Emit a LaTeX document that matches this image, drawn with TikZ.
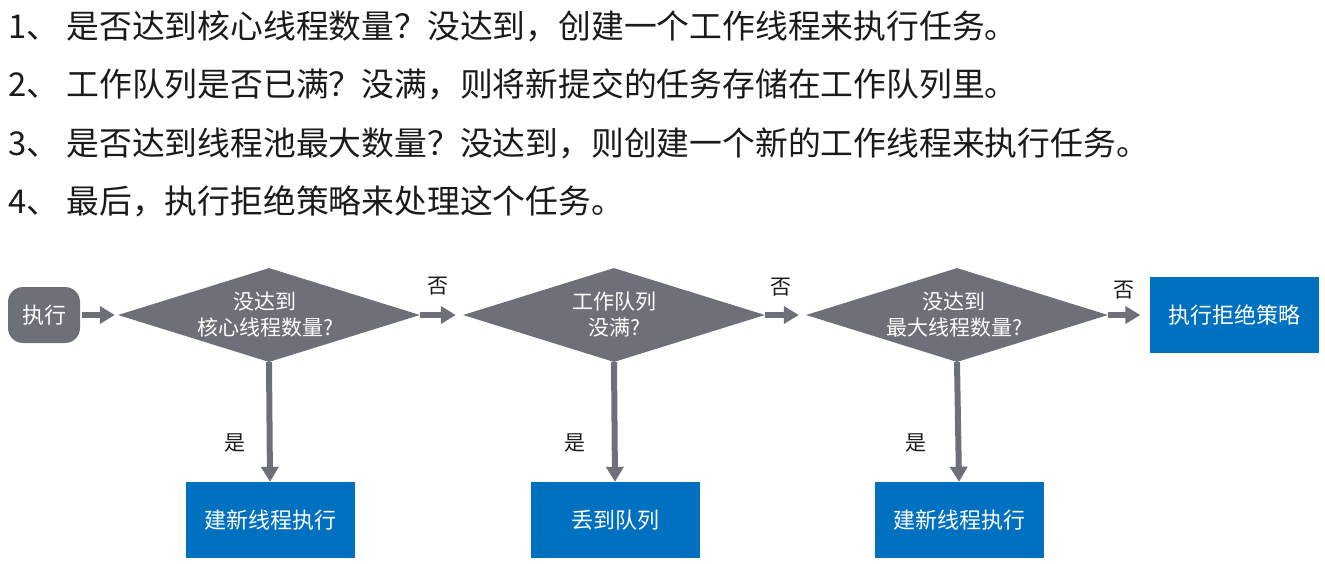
\documentclass[tikz,border=0pt]{standalone}
\usepackage{fontspec}
\setmainfont{Noto Sans CJK SC}
\usetikzlibrary{shapes.geometric,arrows.meta}
\definecolor{dgray}{HTML}{6D7079}
\definecolor{dblue}{HTML}{0071C0}
\definecolor{txt}{HTML}{1A1A1A}
\tikzset{
  x=1pt,y=-1pt,
  line/.style={text=txt,anchor=west,inner sep=0pt,font=\fontsize{32.8}{40}\selectfont},
  dia/.style={diamond,fill=dgray,draw=none,inner sep=0pt,minimum width=302pt,minimum height=94pt},
  dtext/.style={text=white,align=center,inner sep=0pt,font=\fontsize{21}{26}\selectfont},
  bluebox/.style={rectangle,fill=dblue,text=white,inner sep=0pt,minimum width=169pt,minimum height=76pt,font=\fontsize{22}{26}\selectfont},
  startbox/.style={rectangle,rounded corners=15pt,fill=dgray,text=white,inner sep=0pt,minimum width=72pt,minimum height=56pt,font=\fontsize{22}{26}\selectfont},
  lbl/.style={text=txt,inner sep=0pt,font=\fontsize{21}{24}\selectfont},
  arr/.style={draw=dgray,line width=6pt,-{Triangle[length=15pt,width=17pt]}}
}
\begin{document}
\begin{tikzpicture}
\useasboundingbox (0,0) rectangle (1325,563);
\node[line] (l1) at (8,26) {1、 是否达到核心线程数量？没达到，创建一个工作线程来执行任务。};
\node[line] (l2) at (8,84) {2、 工作队列是否已满？没满，则将新提交的任务存储在工作队列里。};
\node[line] (l3) at (8,143) {3、 是否达到线程池最大数量？没达到，则创建一个新的工作线程来执行任务。};
\node[line] (l4) at (8,201) {4、 最后，执行拒绝策略来处理这个任务。};

\node[startbox] (s) at (44,315) {执行};
\node[dia] (d1) at (269,315) {};
\node[dtext] (t1) at (265,315) {没达到\\核心线程数量?};
\node[dia] (d2) at (614,315) {};
\node[dtext] (t2) at (614,315) {工作队列\\没满?};
\node[dia] (d3) at (957,315) {};
\node[dtext] (t3) at (954,315) {没达到\\最大线程数量?};
\node[bluebox] (r) at (1234,315) {执行拒绝策略};
\node[bluebox] (b1) at (270,520) {建新线程执行};
\node[bluebox] (b2) at (615,520) {丢到队列};
\node[bluebox] (b3) at (959,520) {建新线程执行};

\draw[arr,shorten <=2pt,shorten >=3pt] (s.east) -- (d1.west);
\draw[arr,shorten >=7pt] (d1.east) -- (d2.west);
\draw[arr,shorten >=7pt] (d2.east) -- (d3.west);
\draw[arr,shorten >=9pt] (d3.east) -- (r.west);
\draw[arr] (d1.south) -- (b1.north);
\draw[arr] (d2.south) -- (b2.north);
\draw[arr] (d3.south) -- (b3.north);

\node[lbl] (n1) at (438,286) {否};
\node[lbl] (n2) at (781,287) {否};
\node[lbl] (n3) at (1124,290) {否};
\node[lbl] (y1) at (235,443) {是};
\node[lbl] (y2) at (575,443) {是};
\node[lbl] (y3) at (916,443) {是};
\end{tikzpicture}
\end{document}
